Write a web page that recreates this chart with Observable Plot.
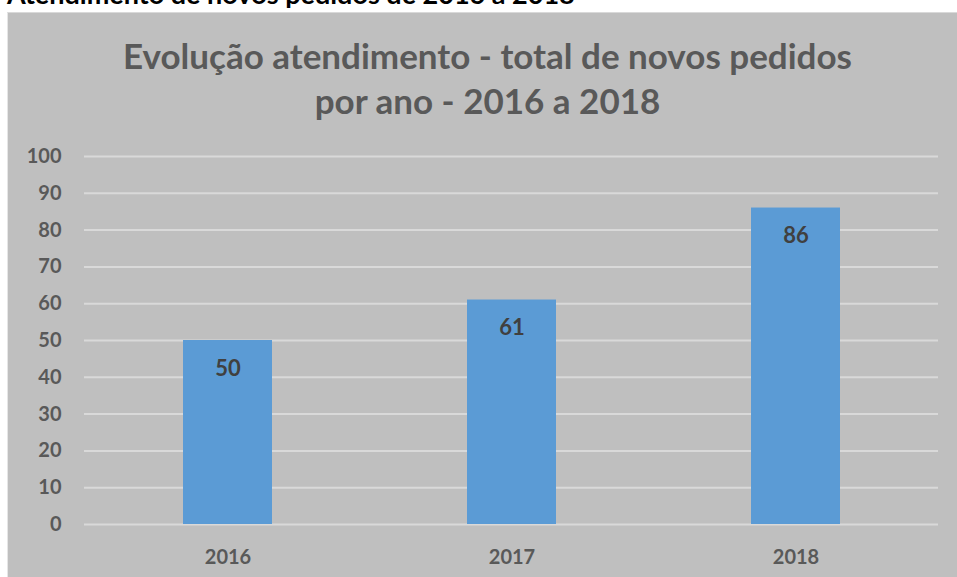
<!DOCTYPE html>
<html>
<head>
<meta charset="utf-8">
<script src="https://cdn.jsdelivr.net/npm/d3@7"></script>
<script src="https://cdn.jsdelivr.net/npm/@observablehq/plot@0.6"></script>
<style>
  html, body { margin: 0; padding: 0; background: #ffffff; width: 957px; height: 577px; overflow: hidden; }
  #page { position: relative; width: 957px; height: 577px; overflow: hidden; }
  #header { position: absolute; left: 7px; top: -20px; font-family: Lato, "Open Sans", sans-serif; font-weight: bold; font-size: 27px; line-height: 27px; color: #000; white-space: nowrap; }
  #box { position: absolute; left: 7px; top: 12px; width: 950px; height: 565px; background: #bfbfbf; border-left: 1px solid #e6e6e6; border-top: 1px solid #d9d9d9; box-sizing: border-box; }
  #title { position: absolute; left: 0; top: 33px; width: 975px; text-align: center; font-family: Lato, "Open Sans", sans-serif; font-weight: bold; font-size: 35px; line-height: 45px; color: #595959; }
  #chart { position: absolute; left: 0; top: 130px; }
</style>
</head>
<body>
<div id="page">
  <div id="header">Atendimento de novos pedidos de 2016 a 2018</div>
  <div id="box"></div>
  <div id="title">Evolução atendimento - total de novos pedidos<br>por ano - 2016 a 2018</div>
  <div id="chart"></div>
</div>
<script>
const years = ["2016", "2017", "2018"];
const pedidos = [50, 61, 86];
const yTicks = [0, 10, 20, 30, 40, 50, 60, 70, 80, 90, 100];

const data = years.map((y, i) => ({year: y, value: pedidos[i]}));

const chart = Plot.plot({
  width: 957,
  height: 447,
  marginTop: 26,
  marginBottom: 53,
  marginLeft: 84,
  marginRight: 19,
  style: {background: "transparent", fontFamily: "Lato, 'Open Sans', sans-serif", fontWeight: "bold", fontSize: "20px", color: "#595959"},
  x: {domain: years, paddingInner: 0.687, paddingOuter: 0.3435, label: null, tickSize: 0, tickPadding: 25},
  y: {domain: [0, 100], ticks: yTicks, label: null, tickSize: 0, tickPadding: 23},
  marks: [
    Plot.gridY(yTicks, {stroke: "#d9d9d9", strokeWidth: 2, strokeOpacity: 1}),
    Plot.barY(data, {x: "year", y: "value", fill: "#5b9bd5"}),
    Plot.text(data, {x: "year", y: "value", text: d => String(d.value), dy: 28, fill: "#404040", fontSize: 22, fontWeight: "bold"})
  ]
});
document.getElementById("chart").appendChild(chart);
</script>
</body>
</html>
